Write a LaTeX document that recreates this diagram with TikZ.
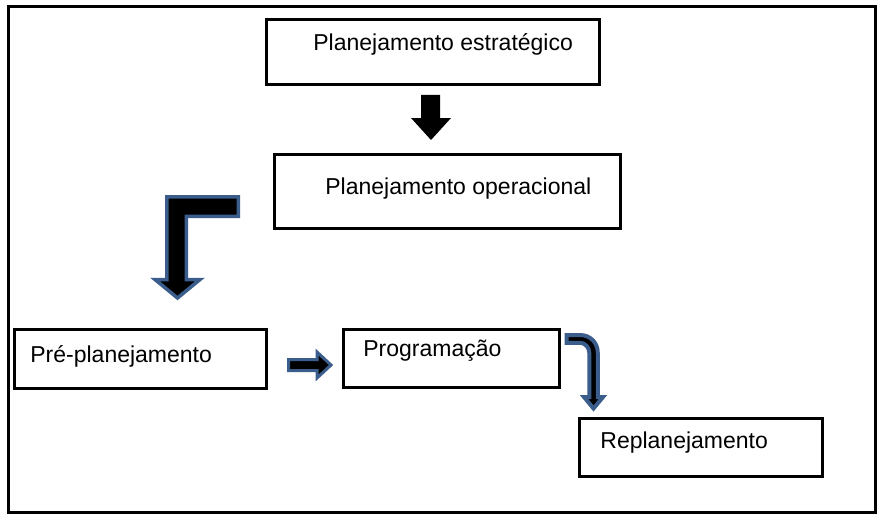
\documentclass[tikz,border=0pt]{standalone}
\usepackage{fontspec}
\setmainfont{Liberation Sans}
\usetikzlibrary{fit}
\definecolor{rimblue}{HTML}{3B5D8C}

\begin{document}
\begin{tikzpicture}[x=0.5pt,y=-0.5pt,
  box/.style={draw,line width=1.5pt,inner sep=0pt},
  txt/.style={anchor=base west,inner sep=0pt,font=\fontsize{11.5}{13.5}\selectfont},
  blk/.style={fill=black,draw=rimblue,line join=miter}]

\useasboundingbox (0,0) rectangle (887,519);
\node[draw,line width=1.7pt,inner sep=0pt,fit={(8.5,6.5) (875.5,512.5)}] (frame) {};

% caixas
\node[box,fit={(266.5,19.5) (599.5,84.5)}]   (est)  {};
\node[box,fit={(274.5,154.5) (620.5,228.5)}] (oper) {};
\node[box,fit={(14.5,329.5) (266.5,388)}]  (pre)  {};
\node[box,fit={(343.5,329.5) (559,387)}]   (prog) {};
\node[box,fit={(579.5,418.5) (822,476)}]   (repl) {};

\node[txt] (estT)  at (313,51)  {Planejamento estratégico};
\node[txt] (operT) at (325,194) {Planejamento operacional};
\node[txt] (preT)  at (30,362)  {Pré-planejamento};
\node[txt] (progT) at (363,356) {Programação};
\node[txt] (replT) at (600,448) {Replanejamento};

% setas
\fill (421,95) -- (440,95) -- (440,118) -- (451,118) -- (431,140) -- (411,118) -- (421,118) -- cycle;

\path[blk,line width=1.75pt] (238.25,196.75) -- (238.25,216.25) -- (186.25,216.25) -- (186.25,279.5)
  -- (200,279.5) -- (177.5,298) -- (155,279.5) -- (166.75,279.5) -- (166.75,196.75) -- cycle;

\path[blk,line width=1.5pt] (288.5,359.5) -- (317,359.5) -- (317,352) -- (331,365)
  -- (317,378) -- (317,370.5) -- (288.5,370.5) -- cycle;

\path[blk,line width=2pt] (566.5,335) -- (580,335) .. controls (590,335) and (597.75,342.5) .. (597.75,352.5)
  -- (597.75,397) -- (603,397) -- (593.5,408.5) -- (584,397) -- (589.25,397) -- (589.25,352.5)
  .. controls (589.25,347.5) and (585,342.75) .. (580,342.75) -- (566.5,342.75) -- cycle;

\end{tikzpicture}
\end{document}
